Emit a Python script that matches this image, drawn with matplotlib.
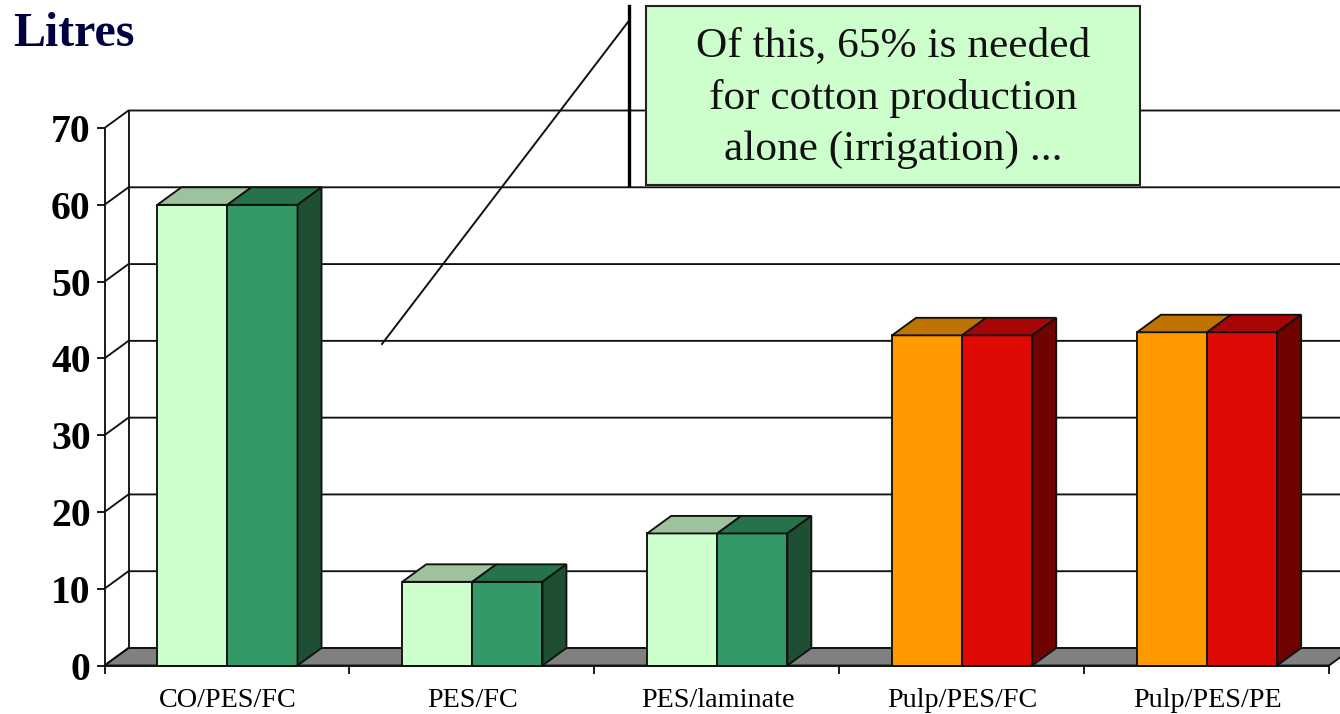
import matplotlib
matplotlib.use("Agg")
import matplotlib.pyplot as plt
from matplotlib.patches import Rectangle
from matplotlib.lines import Line2D

plt.rcParams['font.family'] = ['Liberation Serif', 'DejaVu Serif']

categories = ["CO/PES/FC", "PES/FC", "PES/laminate", "Pulp/PES/FC", "Pulp/PES/PE"]
series_a = [60.0, 10.9, 17.2, 43.0, 43.4]
series_b = [60.0, 10.9, 17.2, 43.0, 43.4]
y_ticks = [0, 10, 20, 30, 40, 50, 60, 70]
title = "Litres"
callout = "Of this, 65% is needed\nfor cotton production\nalone (irrigation) ..."

W, H = 1340, 714
fig = plt.figure(figsize=(W / 100, H / 100), dpi=100, facecolor="white")
X0, X5, Y0, Y70 = 104.5, 1329.0, 665.5, 128.0
ax = fig.add_axes([X0 / W, (H - Y0) / H, (W - X0) / W, (Y0 - Y70) / H])
ax.patch.set_alpha(0)
n = len(categories)
ax.set_xlim(0, (W - X0) / ((X5 - X0) / n))
ax.set_ylim(0, 70)

dx, dy = 24 / 244.9, 17.5 / 7.68   # 3-D depth in data units
bw = 0.2862
EDGE = "#111111"
LW = 1.35

# floor
ax.fill([0, dx, n + dx, n], [0, dy, dy, 0], facecolor="#808080", edgecolor=EDGE, lw=LW, zorder=1, clip_on=False)
# walls and gridlines
for t in y_ticks:
    ax.plot([0, dx, n + dx], [t, t + dy, t + dy], color=EDGE, lw=LW, zorder=1.5, clip_on=False)
ax.plot([dx, dx], [dy, 70 + dy], color=EDGE, lw=LW, zorder=1.5, clip_on=False)

greens = ("#CCFFCC", "#339966", "#9DC29D", "#26724A", "#1E4F33")
warm = ("#FF9900", "#E00A05", "#BF7300", "#A80604", "#700200")

for i in range(n):
    c = greens if i < 3 else warm
    xa = i + 0.5 - bw + 0.002
    xb = xa + bw
    xe = xb + bw
    ax.bar(xa, series_a[i], bw, align="edge", color=c[0], edgecolor=EDGE, lw=LW, zorder=3, clip_on=False)
    ax.bar(xb, series_b[i], bw, align="edge", color=c[1], edgecolor=EDGE, lw=LW, zorder=3, clip_on=False)
    ya, yb = series_a[i], series_b[i]
    ax.fill([xa, xa + dx, xb + dx, xb], [ya, ya + dy, ya + dy, ya], facecolor=c[2], edgecolor=EDGE, lw=LW, zorder=3, clip_on=False)
    ax.fill([xb, xb + dx, xe + dx, xe], [yb, yb + dy, yb + dy, yb], facecolor=c[3], edgecolor=EDGE, lw=LW, zorder=3, clip_on=False)
    ax.fill([xe, xe + dx, xe + dx, xe], [0, dy, yb + dy, yb], facecolor=c[4], edgecolor=EDGE, lw=LW, zorder=3, clip_on=False)

# axes furniture
for s in ("top", "right"):
    ax.spines[s].set_visible(False)
for s in ("left", "bottom"):
    ax.spines[s].set_linewidth(LW)
    ax.spines[s].set_color(EDGE)
    ax.spines[s].set_zorder(4)
ax.spines["bottom"].set_bounds(0, n)
ax.set_yticks(y_ticks)
ax.set_yticklabels([str(t) for t in y_ticks], fontsize=28.5, fontweight="bold")
ax.tick_params(axis="y", length=6, width=LW, color=EDGE, pad=4)
ax.set_xticks(range(n + 1))
ax.set_xticklabels([])
ax.tick_params(axis="x", which="major", length=6, width=LW, color=EDGE)
ax.set_xticks([i + 0.504 for i in range(n)], minor=True)
ax.set_xticklabels(categories, minor=True, fontsize=20.3)
ax.tick_params(axis="x", which="minor", length=0, pad=16)

# title and callout, placed in figure pixels
def px(x, y):
    return x / W, 1 - y / H

fig.text(*px(13, 34), title, fontsize=34.5, fontweight="bold", color="#000040", va="center", ha="left")
fig.add_artist(Line2D([628.5 / W, 628.5 / W], [1 - 6 / H, 1 - 185 / H], color="black", lw=2.4, zorder=6))
fig.add_artist(Line2D([628 / W, 382 / W], [1 - 22 / H, 1 - 344 / H], color=EDGE, lw=1.4, zorder=6))
fig.add_artist(Rectangle(px(646, 185), 494 / W, 179 / H, transform=fig.transFigure,
                         facecolor="#CCFFCC", edgecolor="#222222", lw=1.5, zorder=6))
fig.text(*px(893, 98), callout, fontsize=31.2, ha="center", va="center", linespacing=1.44,
         color="#111111", zorder=7)

fig.savefig("out.png", dpi=100)
